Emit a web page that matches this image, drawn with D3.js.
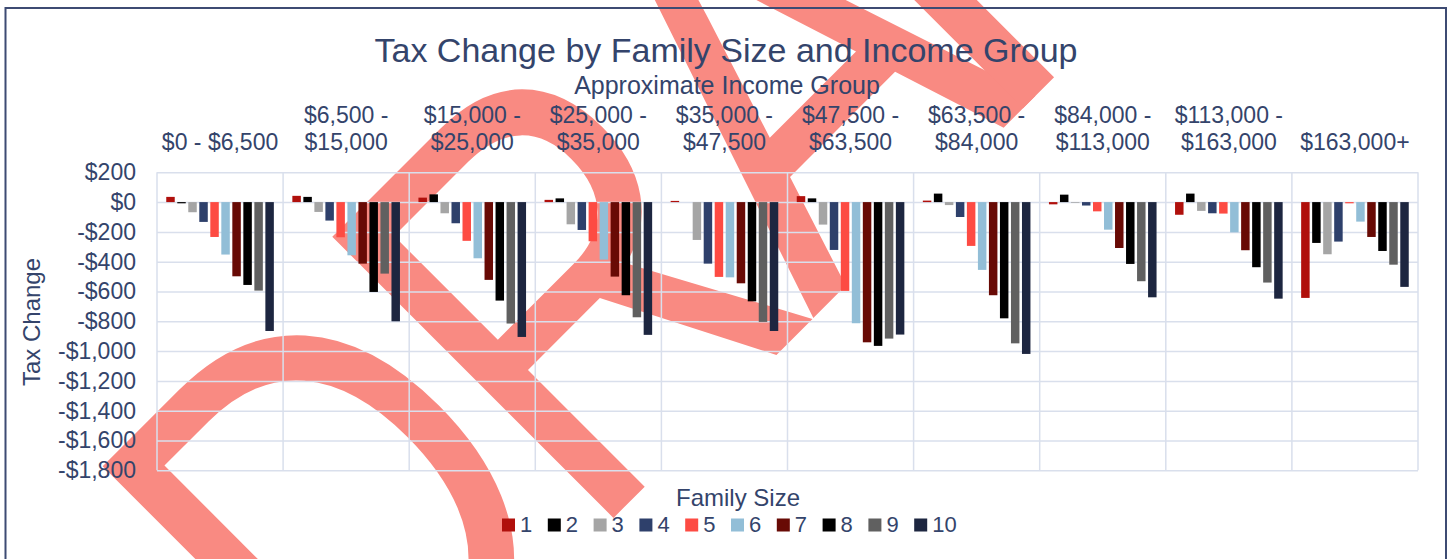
<!DOCTYPE html>
<html>
<head>
<meta charset="utf-8">
<script src="https://cdn.jsdelivr.net/npm/d3@7/dist/d3.min.js"></script>
<style>
  body { margin: 0; background: #fff; }
  text { font-family: "Liberation Sans", Arial, sans-serif; fill: #34446b; }
</style>
</head>
<body>
<div id="chart"></div>
<script>
// income groups, as the two wrapped label lines
const incomeGroups = [
    ['$0 - $6,500'],
    ['$6,500 -', '$15,000'],
    ['$15,000 -', '$25,000'],
    ['$25,000 -', '$35,000'],
    ['$35,000 -', '$47,500'],
    ['$47,500 -', '$63,500'],
    ['$63,500 -', '$84,000'],
    ['$84,000 -', '$113,000'],
    ['$113,000 -', '$163,000'],
    ['$163,000+']
];

const familySizes = ['1', '2', '3', '4', '5', '6', '7', '8', '9', '10'];

// tax change per family size, one value per income group
const size1  = [35, 42, 30, 15, 8, 40, 10, -15, -85, -643];
const size2  = [-8, 35, 52, 25, 0, 25, 57, 50, 57, -274];
const size3  = [-68, -66, -75, -149, -254, -151, -20, -5, -59, -350];
const size4  = [-133, -124, -142, -187, -413, -321, -100, -23, -75, -265];
const size5  = [-234, -236, -260, -263, -502, -596, -294, -62, -77, -8];
const size6  = [-352, -357, -377, -386, -505, -813, -455, -185, -203, -131];
const size7  = [-498, -413, -522, -500, -545, -941, -625, -308, -323, -234];
const size8  = [-556, -603, -661, -625, -666, -965, -780, -415, -437, -328];
const size9  = [-594, -480, -815, -773, -804, -916, -948, -531, -540, -420];
const size10 = [-865, -800, -905, -891, -865, -889, -1019, -639, -648, -569];

const yTicks = [200, 0, -200, -400, -600, -800, -1000, -1200, -1400, -1600, -1800];

const series = [size1, size2, size3, size4, size5, size6, size7, size8, size9, size10];
const colors = ['#b0100c', '#000000', '#a5a5a5', '#2e406b', '#fd4b43',
                '#92bed7', '#680a05', '#000000', '#606060', '#1d2640'];

const width = 1450, height = 559;
const plot = { left: 157, right: 1418, top: 172.3, bottom: 470.3 };

const svg = d3.select('#chart')
    .append('svg')
    .attr('width', width)
    .attr('height', height);

// DRAFT watermark sits behind the whole chart
const wm = svg.append('g')
    .attr('transform', 'rotate(-45) scale(0.82,1)');
const wmLetters = [['D', -361], ['R', 35], ['A', 426], ['F', 741], ['T', 1071]];
wm.selectAll('text')
    .data(wmLetters)
    .enter()
    .append('text')
    .attr('x', d => d[1])
    .attr('y', 800)
    .style('font-size', '578px')
    .style('fill', '#f98a82')
    .text(d => d[0]);

// chart border
svg.append('rect')
    .attr('x', 5.5)
    .attr('y', 8)
    .attr('width', 1440.5)
    .attr('height', 600)
    .attr('fill', 'none')
    .attr('stroke', '#3d4b73')
    .attr('stroke-width', 2);

// scales
const x0 = d3.scaleBand()
    .domain(d3.range(incomeGroups.length))
    .range([plot.left, plot.right]);

const x1 = d3.scaleBand()
    .domain(familySizes)
    .range([0, x0.bandwidth()])
    .paddingInner(0.23)
    .paddingOuter(0.84);

const y = d3.scaleLinear()
    .domain([-1800, 200])
    .range([plot.bottom, plot.top]);

const color = d3.scaleOrdinal().domain(familySizes).range(colors);

// horizontal gridlines
const gridG = svg.append('g')
    .attr('transform', 'translate(' + plot.left + ',0)')
    .call(d3.axisLeft(y).tickValues(yTicks).tickSize(-(plot.right - plot.left)).tickFormat(''));
gridG.select('.domain').remove();
gridG.selectAll('line').attr('stroke', '#d9dfec').attr('stroke-width', 1.5);

// vertical separators between income groups
svg.append('g')
    .selectAll('line')
    .data(d3.range(incomeGroups.length + 1))
    .enter()
    .append('line')
    .attr('x1', i => i < incomeGroups.length ? x0(i) : plot.right)
    .attr('x2', i => i < incomeGroups.length ? x0(i) : plot.right)
    .attr('y1', plot.top)
    .attr('y2', plot.bottom)
    .attr('stroke', '#d9dfec')
    .attr('stroke-width', 1.5);

// y axis labels
const fmt = d => (d < 0 ? '-$' : '$') + d3.format(',')(Math.abs(d));
const yAxisG = svg.append('g')
    .attr('transform', 'translate(' + plot.left + ',0)')
    .call(d3.axisLeft(y).tickValues(yTicks).tickSize(0).tickPadding(21).tickFormat(fmt));
yAxisG.select('.domain').remove();
yAxisG.selectAll('text')
    .style('font-size', '23px')
    .style('font-family', '"Liberation Sans", Arial, sans-serif')
    .attr('fill', '#34446b');

// bars
const groupsG = svg.append('g')
    .selectAll('g')
    .data(incomeGroups)
    .enter()
    .append('g')
    .attr('transform', (d, i) => 'translate(' + x0(i) + ',0)');

groupsG.selectAll('rect')
    .data((d, i) => familySizes.map((k, j) => ({ key: k, value: series[j][i] })))
    .enter()
    .append('rect')
    .attr('x', d => x1(d.key))
    .attr('width', x1.bandwidth())
    .attr('y', d => y(Math.max(0, d.value)))
    .attr('height', d => Math.abs(y(d.value) - y(0)))
    .attr('fill', d => color(d.key));

// income group labels
const labelG = svg.append('g')
    .selectAll('text')
    .data(incomeGroups)
    .enter()
    .append('text')
    .attr('text-anchor', 'middle')
    .style('font-size', '23px');

labelG.selectAll('tspan')
    .data((d, i) => d.map((line, j) => ({ line, i, row: d.length === 1 ? 1 : j })))
    .enter()
    .append('tspan')
    .attr('x', d => x0(d.i) + x0.bandwidth() / 2)
    .attr('y', d => d.row === 0 ? 123 : 150)
    .text(d => d.line);

// titles
svg.append('text')
    .attr('x', 726)
    .attr('y', 62)
    .attr('text-anchor', 'middle')
    .style('font-size', '34px')
    .text('Tax Change by Family Size and Income Group');

svg.append('text')
    .attr('x', 727)
    .attr('y', 94)
    .attr('text-anchor', 'middle')
    .style('font-size', '25px')
    .text('Approximate Income Group');

svg.append('text')
    .attr('transform', 'translate(40,322) rotate(-90)')
    .attr('text-anchor', 'middle')
    .style('font-size', '24px')
    .text('Tax Change');

// legend
svg.append('text')
    .attr('x', 738)
    .attr('y', 505.5)
    .attr('text-anchor', 'middle')
    .style('font-size', '24px')
    .text('Family Size');

const legendX = d3.scaleBand()
    .domain(familySizes)
    .range([502, 960]);

const legend = svg.append('g')
    .selectAll('g')
    .data(familySizes)
    .enter()
    .append('g')
    .attr('transform', d => 'translate(' + legendX(d) + ',518.5)');

legend.append('rect')
    .attr('width', 13)
    .attr('height', 13)
    .attr('fill', d => color(d));

legend.append('text')
    .attr('x', 18)
    .attr('y', 13.5)
    .style('font-size', '22px')
    .text(d => d);
</script>
</body>
</html>
